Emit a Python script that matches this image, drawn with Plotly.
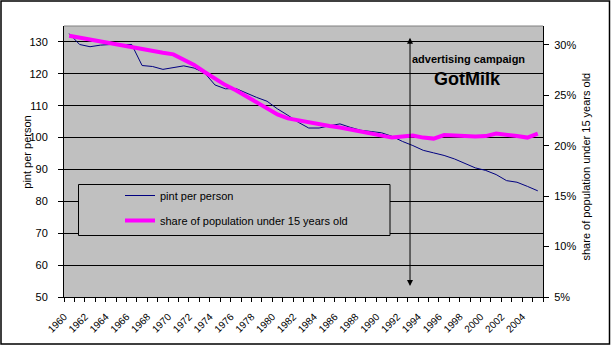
import plotly.graph_objects as go

years = list(range(1960, 2006))
pint_per_person = [
    132.6, 129.2, 128.5, 129.0, 129.2, 129.2, 129.2, 122.6, 122.3, 121.4,
    122.0, 122.5, 121.8, 120.3, 116.5, 115.3, 115.4, 113.9, 112.6, 111.4,
    109.0, 107.0, 104.8, 103.0, 103.0, 103.7, 104.3, 103.2, 102.3, 101.9,
    101.5, 100.4, 98.8, 97.5, 96.0, 95.2, 94.4, 93.3, 91.8, 90.5,
    89.7, 88.4, 86.5, 86.0, 84.7, 83.3,
]
share_under_15 = [
    30.9, 30.7, 30.5, 30.3, 30.1, 29.9, 29.7, 29.5, 29.35, 29.2,
    29.05, 28.5, 28.0, 27.3, 26.6, 26.0, 25.5, 24.9, 24.3, 23.7,
    23.1, 22.7, 22.5, 22.3, 22.1, 21.95, 21.8, 21.6, 21.45, 21.2,
    21.0, 20.8, 20.9, 21.0, 20.8, 20.7, 21.05, 21.05, 20.95, 20.9,
    20.95, 21.2, 21.1, 20.95, 20.8, 21.2,
]
label_years = list(range(1960, 2006, 2))
left_ticks = [50, 60, 70, 80, 90, 100, 110, 120, 130]
right_ticks = [5, 10, 15, 20, 25, 30]

FONT = "Liberation Sans, Arial, sans-serif"
L, R, T, B = 64, 69, 26, 48
W, H = 612, 345
PW, PH = W - L - R, H - T - B


def px(x):
    return (x - L) / PW


def py(y):
    return (H - B - y) / PH


fig = go.Figure()
fig.add_trace(go.Scatter(
    x=years, y=pint_per_person, name="pint per person", mode="lines",
    line=dict(color="#000080", width=1), legendgroup="a",
))
fig.add_trace(go.Scatter(
    x=years, y=share_under_15, name="share of population under 15 years old",
    mode="lines", line=dict(color="#FF00FF", width=4), yaxis="y2", legendgroup="b",
))

fig.update_layout(
    width=W, height=H,
    margin=dict(l=L, r=R, t=T, b=B, autoexpand=False),
    paper_bgcolor="white", plot_bgcolor="#C0C0C0",
    font=dict(family=FONT, size=11, color="black"),
    xaxis=dict(
        range=[1959.5, 2005.5], tickmode="array", tickvals=label_years,
        ticktext=[str(y) for y in label_years], tickangle=-45, ticks="",
        tickfont=dict(size=10), showgrid=False, zeroline=False,
        showline=True, linecolor="black", linewidth=1,
        ticklabelshift=-5, ticklabelstandoff=9,
        minor=dict(ticks="outside", tick0=1959.5, dtick=1, ticklen=4,
                   tickcolor="black", tickwidth=1, showgrid=False),
    ),
    yaxis=dict(
        range=[50, 135], tickvals=left_ticks, ticks="outside", ticklen=5,
        tickcolor="black", showgrid=True, gridcolor="black", gridwidth=1,
        showline=True, linecolor="black", linewidth=1, zeroline=False,
        ticklabelstandoff=8,
    ),
    yaxis2=dict(
        range=[5, 31.86], overlaying="y", side="right", tickmode="array",
        tickvals=right_ticks, ticktext=[f"{v}%" for v in right_ticks],
        ticks="outside", ticklen=5, tickcolor="black",
        showgrid=False, showline=True, linecolor="black", linewidth=1,
        zeroline=False, ticklabelstandoff=3,
    ),
    showlegend=True,
    legend=dict(
        x=px(120), y=py(181), xanchor="left", yanchor="top",
        bgcolor="rgba(0,0,0,0)", borderwidth=0, font=dict(size=11),
        tracegroupgap=6, itemwidth=30,
    ),
    shapes=[
        dict(type="line", xref="paper", yref="paper", x0=0, x1=1, y0=1, y1=1,
             line=dict(color="#808080", width=1)),
        dict(type="rect", xref="paper", yref="paper", x0=px(1), x1=px(609.5),
             y0=py(344), y1=py(1), line=dict(color="black", width=1.5)),
        dict(type="rect", xref="paper", yref="paper", x0=px(78.5), x1=px(390),
             y0=py(235.5), y1=py(184.5), line=dict(color="black", width=1),
             fillcolor="#C0C0C0", layer="above"),
    ],
    annotations=[
        dict(x=1992.73, y=131.3, ax=1992.73, ay=53.0, xref="x", yref="y",
             axref="x", ayref="y", showarrow=True, arrowhead=2, arrowside="end+start",
             arrowsize=1.2, arrowwidth=1, arrowcolor="black", text=""),
        dict(x=px(468), y=py(59), xref="paper", yref="paper", showarrow=False,
             xanchor="center", yanchor="middle",
             text="<b>advertising campaign</b>", font=dict(size=11, color="black")),
        dict(x=px(467.5), y=py(79), xref="paper", yref="paper", showarrow=False,
             xanchor="center", yanchor="middle",
             text="<b>GotMilk</b>", font=dict(size=18, color="black")),
        dict(x=px(26.7), y=py(152), xref="paper", yref="paper", showarrow=False,
             xanchor="center", yanchor="middle",
             text="pint per person", textangle=-90, font=dict(size=11)),
        dict(x=px(585), y=py(166.5), xref="paper", yref="paper", showarrow=False,
             xanchor="center", yanchor="middle",
             text="share of population under 15 years old", textangle=-90,
             font=dict(size=11)),
    ],
)

fig.write_html("out.html")
